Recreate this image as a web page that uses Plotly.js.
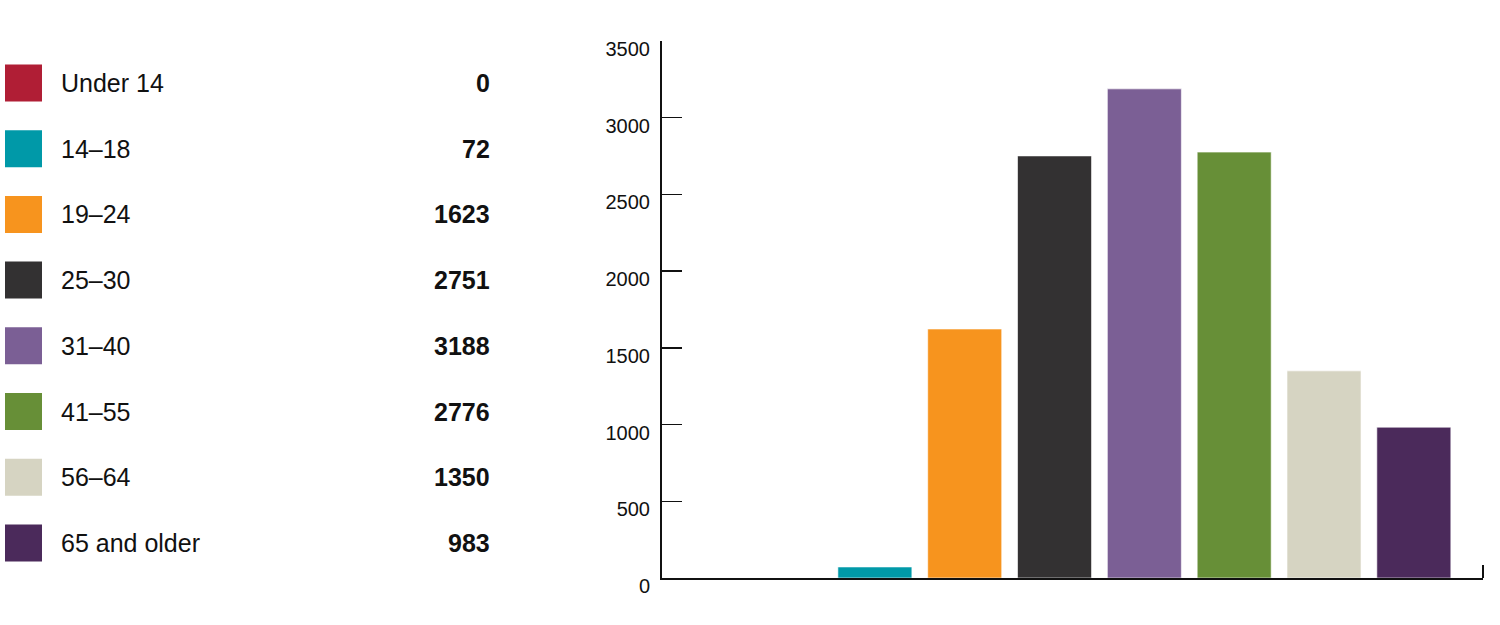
<!DOCTYPE html>
<html>
<head>
<meta charset="utf-8">
<script src="https://cdn.plot.ly/plotly-3.0.1.min.js"></script>
<style>
  html, body { margin: 0; padding: 0; background: #fff; }
  #chart { width: 1500px; height: 625px; }
</style>
</head>
<body>
<div id="chart"></div>
<script>
// age groups and counts
const ageGroups = ['Under 14', '14\u201318', '19\u201324', '25\u201330', '31\u201340', '41\u201355', '56\u201364', '65 and older'];
const counts = [0, 72, 1623, 2751, 3188, 2776, 1350, 983];
const barColors = ['#B01E35', '#0099A8', '#F7941E', '#333132', '#7B5F95', '#678F37', '#D6D4C2', '#4B2A5B'];
const yTicks = [0, 500, 1000, 1500, 2000, 2500, 3000, 3500];

// plot area in pixels (used to place the left-hand key)
const plotL = 662, plotR = 1483, plotT = 41, plotB = 578;
const px = x => (x - plotL) / (plotR - plotL);
const py = y => (plotB - y) / (plotB - plotT);

const rowTop = 83, rowStep = 65.7, box = 37;
const keyFont = 'Liberation Sans, Arial, sans-serif';

const shapes = [];
const annotations = [];
ageGroups.forEach((g, i) => {
    const cy = rowTop + rowStep * i;
    shapes.push({
        type: 'rect', xref: 'paper', yref: 'paper',
        x0: px(5), x1: px(5 + box), y0: py(cy + box / 2), y1: py(cy - box / 2),
        fillcolor: barColors[i], line: { width: 0 }
    });
    annotations.push({
        xref: 'paper', yref: 'paper', x: px(59), y: py(cy),
        xanchor: 'left', yanchor: 'middle', showarrow: false,
        text: g, font: { family: keyFont, size: 25, color: '#111' }
    });
    annotations.push({
        xref: 'paper', yref: 'paper', x: px(492), y: py(cy),
        xanchor: 'right', yanchor: 'middle', showarrow: false,
        text: '<b>' + counts[i] + '</b>', font: { family: keyFont, size: 25, color: '#111' }
    });
});

// little upward tick at the right end of the x axis
shapes.push({
    type: 'line', xref: 'paper', yref: 'paper',
    x0: 1, x1: 1, y0: 0, y1: py(plotB - 13),
    line: { color: '#111', width: 2 }
});

const trace = {
    type: 'bar',
    x: ageGroups.map((g, i) => i),
    y: counts,
    marker: { color: barColors, line: { color: 'rgba(255,255,255,0.6)', width: 1 } },
    hoverinfo: 'skip'
};

const layout = {
    width: 1500, height: 625,
    margin: { l: plotL, r: 1500 - plotR, t: plotT, b: 625 - plotB },
    paper_bgcolor: '#fff', plot_bgcolor: '#fff',
    showlegend: false,
    bargap: 0.176,
    xaxis: {
        range: [-1.37, 7.77],
        showticklabels: false, ticks: '', showgrid: false, zeroline: false,
        showline: true, linecolor: '#111', linewidth: 2, fixedrange: true
    },
    yaxis: {
        range: [0, 3500],
        tickvals: yTicks, ticktext: yTicks.map(String),
        ticks: 'inside', ticklen: 20, tickwidth: 1.5, tickcolor: '#111',
        ticklabelshift: 8, ticklabelstandoff: 6,
        tickfont: { family: keyFont, size: 20, color: '#111' },
        showgrid: false, zeroline: false,
        showline: true, linecolor: '#111', linewidth: 2, fixedrange: true
    },
    shapes: shapes,
    annotations: annotations
};

Plotly.newPlot('chart', [trace], layout, { staticPlot: true, displayModeBar: false });
</script>
</body>
</html>
